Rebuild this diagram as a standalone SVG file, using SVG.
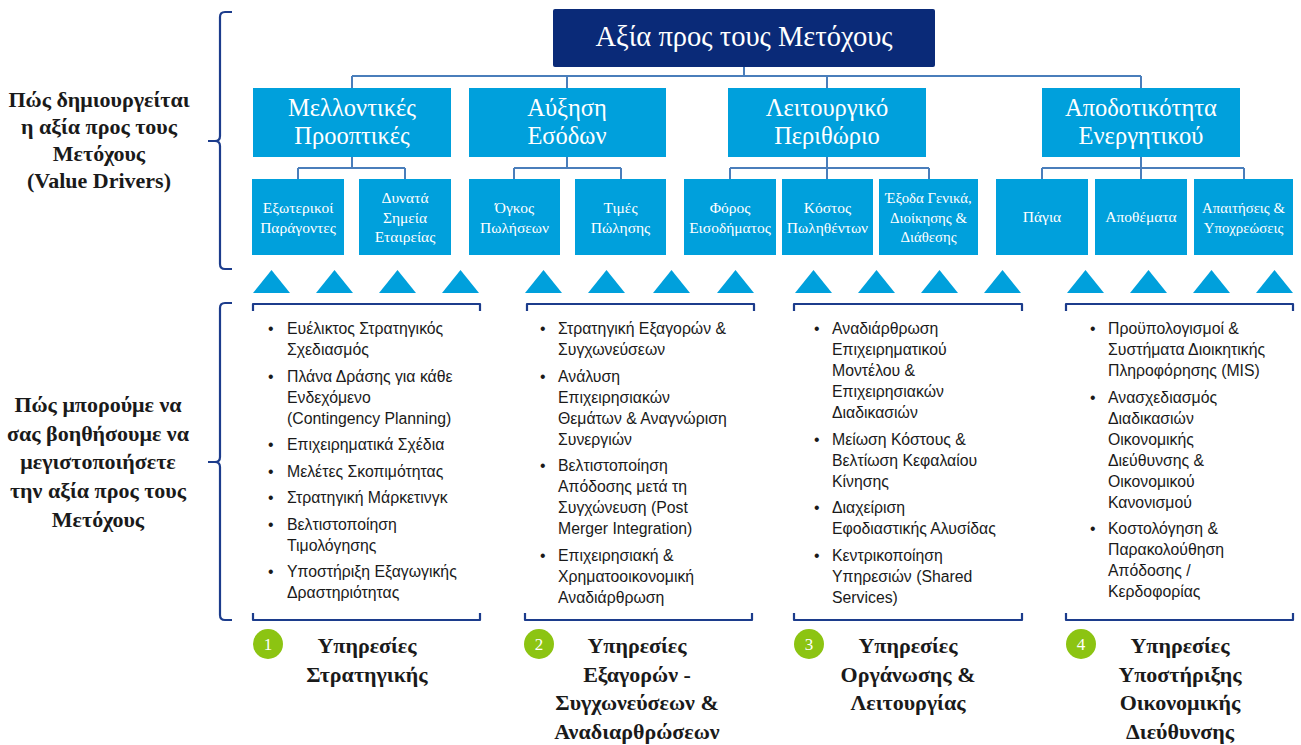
<svg xmlns="http://www.w3.org/2000/svg" width="1301" height="745" viewBox="0 0 1301 745">
<style>
.bg{fill:#ffffff}
.top{fill:#0a2a78}
.box{fill:#00a0dc}
.tri{fill:#00a0dc}
.con{fill:none;stroke:#4a7ebb;stroke-width:2}
.brk{fill:none;stroke:#1c3c8c;stroke-width:2.2;stroke-linejoin:round}
.t0{font-family:"Liberation Serif","DejaVu Serif",serif;font-size:28.5px;fill:#ffffff;text-anchor:middle}
.t1{font-family:"Liberation Serif","DejaVu Serif",serif;font-size:24.5px;fill:#ffffff;text-anchor:middle}
.t2{font-family:"Liberation Serif","DejaVu Serif",serif;font-size:15.5px;fill:#ffffff;text-anchor:middle}
.t2s{font-size:14.8px}
.side{font-family:"Liberation Serif","DejaVu Serif",serif;font-size:22px;font-weight:bold;fill:#1a1a1a;text-anchor:middle}
.svc{font-family:"Liberation Serif","DejaVu Serif",serif;font-size:22px;font-weight:bold;fill:#1a1a1a;text-anchor:middle}
.bl{font-family:"Liberation Sans","Arial",sans-serif;font-size:15.8px;fill:#1a1a1a}
.num{fill:#8cc412}
.nt{font-family:"Liberation Serif","DejaVu Serif",serif;font-size:17px;fill:#ffffff;text-anchor:middle}
</style>
<rect class="bg" x="0" y="0" width="1301" height="745"/>

<!-- side labels and braces -->
<g id="label-drivers">
<path class="brk" d="M232,12 H225 Q220,12 220,17 V136 Q220,141 215,141 H208 M215,141 Q220,141 220,146 V264 Q220,269 225,269 H232"/>
<text class="side" x="99" y="107">Πώς δημιουργείται</text>
<text class="side" x="99" y="134">η αξία προς τους</text>
<text class="side" x="99" y="161">Μετόχους</text>
<text class="side" x="99" y="188">(Value Drivers)</text>
</g>
<g id="label-help">
<path class="brk" d="M232,303 H225 Q220,303 220,308 V457 Q220,462 215,462 H208 M215,462 Q220,462 220,467 V615 Q220,620 225,620 H232"/>
<text class="side" x="98" y="412">Πώς μπορούμε να</text>
<text class="side" x="98" y="441">σας βοηθήσουμε να</text>
<text class="side" x="98" y="469">μεγιστοποιήσετε</text>
<text class="side" x="98" y="498">την αξία προς τους</text>
<text class="side" x="98" y="527">Μετόχους</text>
</g>

<!-- connectors -->
<g id="connectors">
<path class="con" d="M744,67 V76 M352,76 H1141 M352,76 V88 M567,76 V88 M827,76 V88 M1141,76 V88"/>
<path class="con" d="M352,157 V168 M298,168 H405 M298,168 V179 M405,168 V179"/>
<path class="con" d="M567,157 V168 M514,168 H621 M514,168 V179 M621,168 V179"/>
<path class="con" d="M827,157 V168 M730,168 H929 M730,168 V179 M827,168 V179 M929,168 V179"/>
<path class="con" d="M1141,157 V168 M1042,168 H1244 M1042,168 V179 M1141,168 V179 M1244,168 V179"/>
</g>

<!-- top node -->
<g id="n-root">
<rect class="top" x="553" y="9" width="382" height="58" rx="2"/>
<text class="t0" x="744" y="46">Αξία προς τους Μετόχους</text>
</g>

<!-- level 2 -->
<g id="n-future">
<rect class="box" x="253" y="88" width="198" height="69"/>
<text class="t1" x="352" y="116">Μελλοντικές</text>
<text class="t1" x="352" y="144">Προοπτικές</text>
</g>
<g id="n-revenue">
<rect class="box" x="469" y="88" width="197" height="69"/>
<text class="t1" x="567" y="116">Αύξηση</text>
<text class="t1" x="567" y="144">Εσόδων</text>
</g>
<g id="n-margin">
<rect class="box" x="728" y="88" width="198" height="69"/>
<text class="t1" x="827" y="116">Λειτουργικό</text>
<text class="t1" x="827" y="144">Περιθώριο</text>
</g>
<g id="n-assets">
<rect class="box" x="1042" y="88" width="198" height="69"/>
<text class="t1" x="1141" y="116">Αποδοτικότητα</text>
<text class="t1" x="1141" y="144">Ενεργητικού</text>
</g>

<!-- level 3 -->
<g id="n-external">
<rect class="box" x="252" y="179" width="92" height="76"/>
<text class="t2" x="298" y="213">Εξωτερικοί</text>
<text class="t2" x="298" y="233">Παράγοντες</text>
</g>
<g id="n-strengths">
<rect class="box" x="359" y="179" width="92" height="76"/>
<text class="t2" x="405" y="203">Δυνατά</text>
<text class="t2" x="405" y="223">Σημεία</text>
<text class="t2" x="405" y="242">Εταιρείας</text>
</g>
<g id="n-volume">
<rect class="box" x="469" y="179" width="91" height="76"/>
<text class="t2" x="514.5" y="213">Όγκος</text>
<text class="t2" x="514.5" y="233">Πωλήσεων</text>
</g>
<g id="n-prices">
<rect class="box" x="575" y="179" width="91" height="76"/>
<text class="t2" x="620.5" y="213">Τιμές</text>
<text class="t2" x="620.5" y="233">Πώλησης</text>
</g>
<g id="n-tax">
<rect class="box" x="684" y="179" width="92" height="76"/>
<text class="t2" x="730" y="213">Φόρος</text>
<text class="t2" x="730" y="233">Εισοδήματος</text>
</g>
<g id="n-cogs">
<rect class="box" x="782" y="179" width="91" height="76"/>
<text class="t2" x="827.5" y="213">Κόστος</text>
<text class="t2" x="827.5" y="233">Πωληθέντων</text>
</g>
<g id="n-expenses">
<rect class="box" x="879" y="179" width="99" height="76"/>
<text class="t2 t2s" x="928.5" y="203">Έξοδα Γενικά,</text>
<text class="t2 t2s" x="928.5" y="223">Διοίκησης &amp;</text>
<text class="t2 t2s" x="928.5" y="242">Διάθεσης</text>
</g>
<g id="n-fixed">
<rect class="box" x="996" y="179" width="92" height="76"/>
<text class="t2" x="1042" y="222">Πάγια</text>
</g>
<g id="n-stock">
<rect class="box" x="1095" y="179" width="92" height="76"/>
<text class="t2" x="1141" y="222">Αποθέματα</text>
</g>
<g id="n-receivables">
<rect class="box" x="1194" y="179" width="99" height="76"/>
<text class="t2 t2s" x="1243.5" y="213">Απαιτήσεις &amp;</text>
<text class="t2 t2s" x="1243.5" y="233">Υποχρεώσεις</text>
</g>

<!-- triangles -->
<g id="triangles">
<polygon class="tri" points="253,293 271.5,270 290,293"/>
<polygon class="tri" points="316,293 334.5,270 353,293"/>
<polygon class="tri" points="379,293 397.5,270 416,293"/>
<polygon class="tri" points="442,293 460.5,270 479,293"/>
<polygon class="tri" points="525,293 543.5,270 562,293"/>
<polygon class="tri" points="588,293 606.5,270 625,293"/>
<polygon class="tri" points="653,293 671.5,270 690,293"/>
<polygon class="tri" points="717,293 735.5,270 754,293"/>
<polygon class="tri" points="795,293 813.5,270 832,293"/>
<polygon class="tri" points="858,293 876.5,270 895,293"/>
<polygon class="tri" points="921,293 939.5,270 958,293"/>
<polygon class="tri" points="984,293 1002.5,270 1021,293"/>
<polygon class="tri" points="1067,293 1085.5,270 1104,293"/>
<polygon class="tri" points="1130,293 1148.5,270 1167,293"/>
<polygon class="tri" points="1193,293 1211.5,270 1230,293"/>
<polygon class="tri" points="1256,293 1274.5,270 1293,293"/>
</g>

<!-- service 1 -->
<g id="svc-1">
<path class="brk" d="M253,311 V304 H480 V311 M253,613 V620 H480 V613"/>
<g class="bl">
<text x="268" y="334">•</text><text x="287" y="334">Ευέλικτος Στρατηγικός</text>
<text x="287" y="355">Σχεδιασμός</text>
<text x="268" y="381.5">•</text><text x="287" y="381.5">Πλάνα Δράσης για κάθε</text>
<text x="287" y="402.5">Ενδεχόμενο</text>
<text x="287" y="423.5">(Contingency Planning)</text>
<text x="268" y="450">•</text><text x="287" y="450">Επιχειρηματικά Σχέδια</text>
<text x="268" y="476.5">•</text><text x="287" y="476.5">Μελέτες Σκοπιμότητας</text>
<text x="268" y="503">•</text><text x="287" y="503">Στρατηγική Μάρκετινγκ</text>
<text x="268" y="529.5">•</text><text x="287" y="529.5">Βελτιστοποίηση</text>
<text x="287" y="550.5">Τιμολόγησης</text>
<text x="268" y="577">•</text><text x="287" y="577">Υποστήριξη Εξαγωγικής</text>
<text x="287" y="598">Δραστηριότητας</text>
</g>
<circle class="num" cx="268" cy="644" r="15"/>
<text class="nt" x="268" y="650">1</text>
<text class="svc" x="367" y="653">Υπηρεσίες</text>
<text class="svc" x="367" y="682">Στρατηγικής</text>
</g>

<!-- service 2 -->
<g id="svc-2">
<path class="brk" d="M527,311 V304 H754 V311 M525,613 V620 H752 V613"/>
<g class="bl">
<text x="540" y="334">•</text><text x="558" y="334">Στρατηγική Εξαγορών &amp;</text>
<text x="558" y="355">Συγχωνεύσεων</text>
<text x="540" y="381.5">•</text><text x="558" y="381.5">Ανάλυση</text>
<text x="558" y="402.5">Επιχειρησιακών</text>
<text x="558" y="423.5">Θεμάτων &amp; Αναγνώριση</text>
<text x="558" y="444.5">Συνεργιών</text>
<text x="540" y="471">•</text><text x="558" y="471">Βελτιστοποίηση</text>
<text x="558" y="492">Απόδοσης μετά τη</text>
<text x="558" y="513">Συγχώνευση (Post</text>
<text x="558" y="534">Merger Integration)</text>
<text x="540" y="560.5">•</text><text x="558" y="560.5">Επιχειρησιακή &amp;</text>
<text x="558" y="581.5">Χρηματοοικονομική</text>
<text x="558" y="602.5">Αναδιάρθρωση</text>
</g>
<circle class="num" cx="539" cy="644" r="15"/>
<text class="nt" x="539" y="650">2</text>
<text class="svc" x="637" y="653">Υπηρεσίες</text>
<text class="svc" x="637" y="682">Εξαγορών -</text>
<text class="svc" x="637" y="710">Συγχωνεύσεων &amp;</text>
<text class="svc" x="637" y="739">Αναδιαρθρώσεων</text>
</g>

<!-- service 3 -->
<g id="svc-3">
<path class="brk" d="M794,311 V304 H1022 V311 M794,613 V620 H1022 V613"/>
<g class="bl">
<text x="814" y="334">•</text><text x="832" y="334">Αναδιάρθρωση</text>
<text x="832" y="355">Επιχειρηματικού</text>
<text x="832" y="376">Μοντέλου &amp;</text>
<text x="832" y="397">Επιχειρησιακών</text>
<text x="832" y="418">Διαδικασιών</text>
<text x="814" y="444.5">•</text><text x="832" y="444.5">Μείωση Κόστους &amp;</text>
<text x="832" y="465.5">Βελτίωση Κεφαλαίου</text>
<text x="832" y="486.5">Κίνησης</text>
<text x="814" y="513">•</text><text x="832" y="513">Διαχείριση</text>
<text x="832" y="534">Εφοδιαστικής Αλυσίδας</text>
<text x="814" y="560.5">•</text><text x="832" y="560.5">Κεντρικοποίηση</text>
<text x="832" y="581.5">Υπηρεσιών (Shared</text>
<text x="832" y="602.5">Services)</text>
</g>
<circle class="num" cx="809" cy="644" r="15"/>
<text class="nt" x="809" y="650">3</text>
<text class="svc" x="908" y="653">Υπηρεσίες</text>
<text class="svc" x="908" y="682">Οργάνωσης &amp;</text>
<text class="svc" x="908" y="710">Λειτουργίας</text>
</g>

<!-- service 4 -->
<g id="svc-4">
<path class="brk" d="M1066,311 V304 H1293 V311 M1066,613 V620 H1293 V613"/>
<g class="bl">
<text x="1090" y="334">•</text><text x="1108" y="334">Προϋπολογισμοί &amp;</text>
<text x="1108" y="355">Συστήματα Διοικητικής</text>
<text x="1108" y="376">Πληροφόρησης (MIS)</text>
<text x="1090" y="402.5">•</text><text x="1108" y="402.5">Ανασχεδιασμός</text>
<text x="1108" y="423.5">Διαδικασιών</text>
<text x="1108" y="444.5">Οικονομικής</text>
<text x="1108" y="465.5">Διεύθυνσης &amp;</text>
<text x="1108" y="486.5">Οικονομικού</text>
<text x="1108" y="507.5">Κανονισμού</text>
<text x="1090" y="534">•</text><text x="1108" y="534">Κοστολόγηση &amp;</text>
<text x="1108" y="555">Παρακολούθηση</text>
<text x="1108" y="576">Απόδοσης /</text>
<text x="1108" y="597">Κερδοφορίας</text>
</g>
<circle class="num" cx="1081" cy="644" r="15"/>
<text class="nt" x="1081" y="650">4</text>
<text class="svc" x="1180" y="653">Υπηρεσίες</text>
<text class="svc" x="1180" y="682">Υποστήριξης</text>
<text class="svc" x="1180" y="710">Οικονομικής</text>
<text class="svc" x="1180" y="739">Διεύθυνσης</text>
</g>
</svg>
